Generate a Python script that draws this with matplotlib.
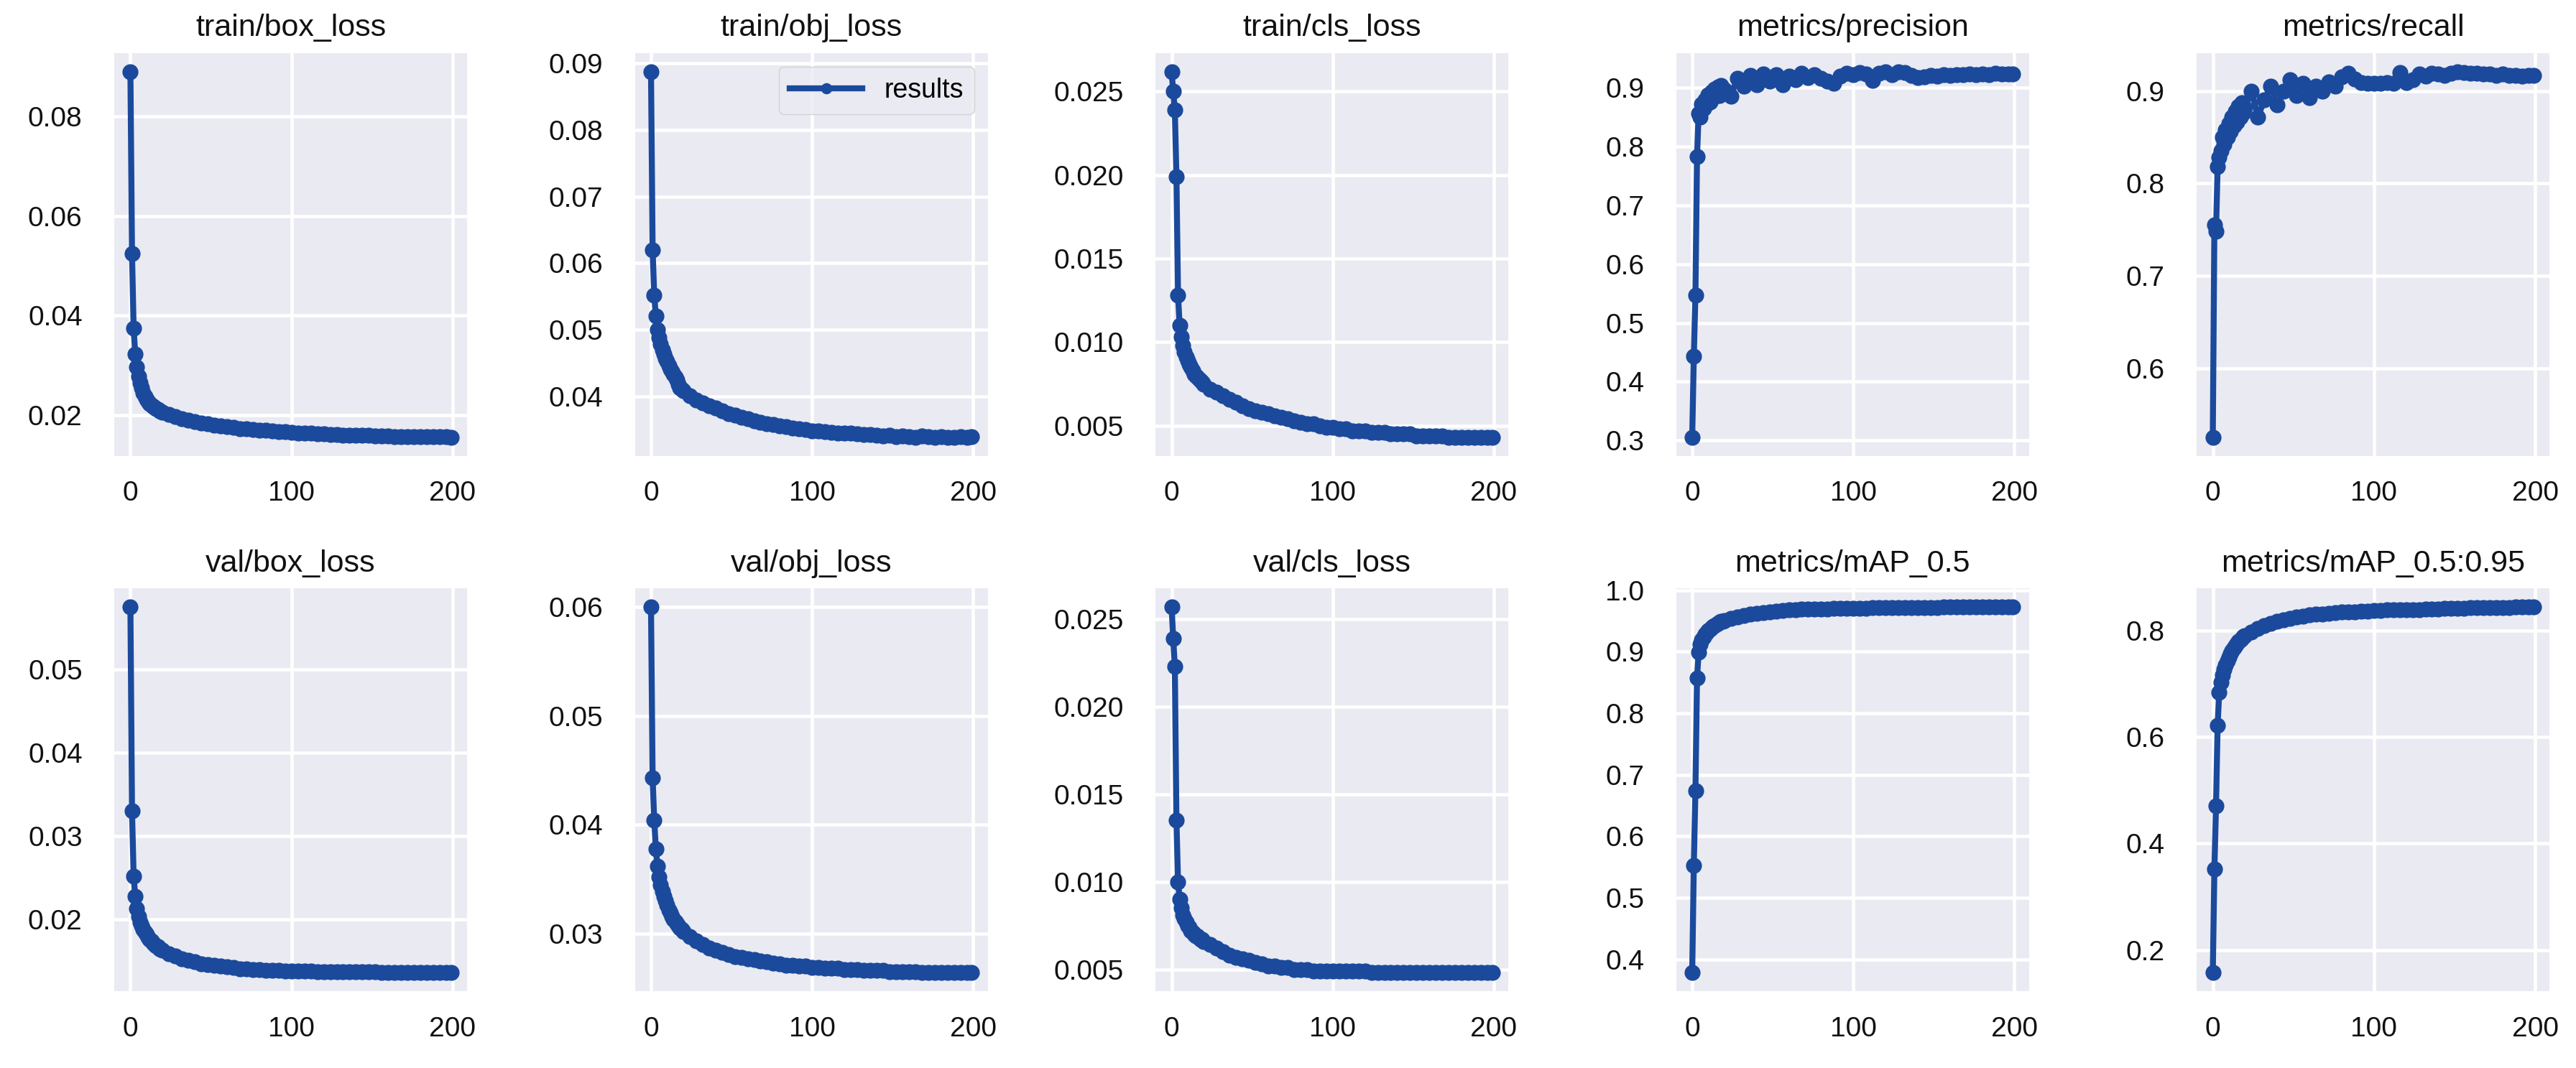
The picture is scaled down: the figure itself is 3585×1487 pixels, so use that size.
import matplotlib.pyplot as plt

# epochs (every epoch early, every 4th later)
epochs = [0, 1, 2, 3, 4, 5, 6, 7, 8, 9, 10, 11, 12, 13, 14, 15, 16, 17, 18, 19,
          20, 24, 28, 32, 36, 40, 44, 48, 52, 56, 60, 64, 68, 72, 76, 80, 84, 88,
          92, 96, 100, 104, 108, 112, 116, 120, 124, 128, 132, 136, 140, 144, 148,
          152, 156, 160, 164, 168, 172, 176, 180, 184, 188, 192, 196, 199]

titles = ["train/box_loss", "train/obj_loss", "train/cls_loss", "metrics/precision", "metrics/recall",
          "val/box_loss", "val/obj_loss", "val/cls_loss", "metrics/mAP_0.5", "metrics/mAP_0.5:0.95"]

train_box_loss = [0.0890, 0.0524, 0.0374, 0.0322, 0.0296, 0.0278, 0.0265, 0.0254, 0.0245, 0.0238,
                  0.0232, 0.0227, 0.0223, 0.0220, 0.0217, 0.0215, 0.0213, 0.0211, 0.0209, 0.0207,
                  0.0206, 0.0201, 0.0197, 0.0193, 0.0190, 0.0187, 0.0184, 0.0182, 0.0180, 0.0178,
                  0.0176, 0.0175, 0.0173, 0.0172, 0.0171, 0.0170, 0.0169, 0.0168, 0.0167, 0.0166,
                  0.0165, 0.0164, 0.0164, 0.0163, 0.0162, 0.0162, 0.0161, 0.0161, 0.0160, 0.0160,
                  0.0159, 0.0159, 0.0159, 0.0158, 0.0158, 0.0158, 0.0157, 0.0157, 0.0157, 0.0157,
                  0.0156, 0.0156, 0.0156, 0.0156, 0.0156, 0.0155]

train_obj_loss = [0.0888, 0.0620, 0.0552, 0.0520, 0.0500, 0.0488, 0.0478, 0.0470, 0.0463, 0.0457,
                  0.0452, 0.0446, 0.0441, 0.0437, 0.0433, 0.0429, 0.0424, 0.0418, 0.0413, 0.0410,
                  0.0408, 0.0401, 0.0394, 0.0390, 0.0386, 0.0382, 0.0378, 0.0374, 0.0371, 0.0368,
                  0.0366, 0.0363, 0.0361, 0.0359, 0.0357, 0.0355, 0.0354, 0.0352, 0.0351, 0.0350,
                  0.0348, 0.0348, 0.0347, 0.0346, 0.0345, 0.0344, 0.0344, 0.0343, 0.0342, 0.0342,
                  0.0341, 0.0340, 0.0341, 0.0339, 0.0340, 0.0339, 0.0338, 0.0340, 0.0339, 0.0338,
                  0.0339, 0.0338, 0.0338, 0.0339, 0.0338, 0.0339]

train_cls_loss = [0.0262, 0.0250, 0.0239, 0.0199, 0.0128, 0.0110, 0.0103, 0.0098, 0.0094, 0.0091,
                  0.0089, 0.0087, 0.0085, 0.0083, 0.0081, 0.0080, 0.0079, 0.0078, 0.0077, 0.0076,
                  0.0075, 0.0072, 0.0070, 0.0068, 0.0066, 0.0064, 0.0062, 0.0060, 0.0059, 0.0058,
                  0.0057, 0.0056, 0.0055, 0.0054, 0.0053, 0.0052, 0.0051, 0.0051, 0.0050, 0.0049,
                  0.0049, 0.0048, 0.0048, 0.0047, 0.0047, 0.0047, 0.0046, 0.0046, 0.0046, 0.0045,
                  0.0045, 0.0045, 0.0045, 0.0044, 0.0044, 0.0044, 0.0044, 0.0044, 0.0043, 0.0043,
                  0.0043, 0.0043, 0.0043, 0.0043, 0.0043, 0.0043]

precision = [0.305, 0.443, 0.547, 0.783, 0.857, 0.850, 0.872, 0.865, 0.880, 0.872,
             0.888, 0.876, 0.893, 0.884, 0.898, 0.889, 0.902, 0.887, 0.904, 0.892,
             0.897, 0.886, 0.917, 0.903, 0.921, 0.906, 0.924, 0.912, 0.922, 0.905,
             0.920, 0.914, 0.925, 0.918, 0.923, 0.916, 0.912, 0.908, 0.920, 0.925,
             0.923, 0.926, 0.924, 0.913, 0.925, 0.927, 0.922, 0.928, 0.926, 0.921,
             0.918, 0.919, 0.921, 0.920, 0.922, 0.921, 0.923, 0.922, 0.924, 0.923,
             0.924, 0.923, 0.925, 0.924, 0.924, 0.924]

recall = [0.525, 0.755, 0.748, 0.818, 0.828, 0.835, 0.850, 0.842, 0.858, 0.850,
          0.865, 0.856, 0.872, 0.862, 0.878, 0.866, 0.883, 0.872, 0.887, 0.876,
          0.882, 0.900, 0.872, 0.890, 0.905, 0.885, 0.900, 0.912, 0.895, 0.908,
          0.893, 0.905, 0.900, 0.910, 0.905, 0.915, 0.919, 0.913, 0.909, 0.908,
          0.908, 0.908, 0.909, 0.908, 0.920, 0.909, 0.912, 0.918, 0.916, 0.919,
          0.918, 0.917, 0.919, 0.921, 0.920, 0.919, 0.919, 0.918, 0.918, 0.917,
          0.918, 0.917, 0.917, 0.916, 0.917, 0.917]

val_box_loss = [0.0575, 0.0330, 0.0252, 0.0228, 0.0213, 0.0204, 0.0197, 0.0192, 0.0188, 0.0185,
                0.0182, 0.0179, 0.0176, 0.0174, 0.0172, 0.0170, 0.0168, 0.0167, 0.0165, 0.0164,
                0.0163, 0.0159, 0.0156, 0.0153, 0.0151, 0.0149, 0.0147, 0.0146, 0.0145, 0.0144,
                0.0143, 0.0142, 0.0141, 0.0141, 0.0140, 0.0140, 0.0139, 0.0139, 0.0139, 0.0138,
                0.0138, 0.0138, 0.0138, 0.0138, 0.0137, 0.0137, 0.0137, 0.0137, 0.0137, 0.0137,
                0.0137, 0.0137, 0.0137, 0.0137, 0.0136, 0.0136, 0.0136, 0.0136, 0.0136, 0.0136,
                0.0136, 0.0136, 0.0136, 0.0136, 0.0136, 0.0136]

val_obj_loss = [0.0600, 0.0443, 0.0404, 0.0378, 0.0362, 0.0352, 0.0345, 0.0339, 0.0334, 0.0330,
                0.0326, 0.0322, 0.0319, 0.0316, 0.0313, 0.0311, 0.0309, 0.0307, 0.0305, 0.0304,
                0.0302, 0.0297, 0.0293, 0.0290, 0.0287, 0.0285, 0.0283, 0.0281, 0.0279, 0.0278,
                0.0277, 0.0276, 0.0275, 0.0274, 0.0273, 0.0272, 0.0271, 0.0271, 0.0270, 0.0270,
                0.0269, 0.0269, 0.0268, 0.0268, 0.0268, 0.0267, 0.0267, 0.0267, 0.0266, 0.0266,
                0.0266, 0.0266, 0.0265, 0.0265, 0.0265, 0.0265, 0.0265, 0.0264, 0.0264, 0.0264,
                0.0264, 0.0264, 0.0264, 0.0264, 0.0264, 0.0264]

val_cls_loss = [0.0257, 0.0239, 0.0223, 0.0135, 0.0100, 0.0090, 0.0085, 0.0081, 0.0079, 0.0077,
                0.0075, 0.0074, 0.0072, 0.0071, 0.0070, 0.0069, 0.0069, 0.0068, 0.0067, 0.0067,
                0.0066, 0.0064, 0.0062, 0.0060, 0.0058, 0.0057, 0.0056, 0.0055, 0.0054, 0.0053,
                0.0052, 0.0052, 0.0051, 0.0051, 0.0050, 0.0050, 0.0050, 0.0049, 0.0049, 0.0049,
                0.0049, 0.0049, 0.0049, 0.0049, 0.0049, 0.0049, 0.0048, 0.0048, 0.0048, 0.0048,
                0.0048, 0.0048, 0.0048, 0.0048, 0.0048, 0.0048, 0.0048, 0.0048, 0.0048, 0.0048,
                0.0048, 0.0048, 0.0048, 0.0048, 0.0048, 0.0048]

map_50 = [0.378, 0.553, 0.674, 0.857, 0.899, 0.912, 0.919, 0.924, 0.928, 0.931,
          0.934, 0.937, 0.939, 0.941, 0.943, 0.945, 0.946, 0.948, 0.949, 0.950,
          0.951, 0.954, 0.957, 0.959, 0.961, 0.963, 0.964, 0.965, 0.966, 0.967,
          0.968, 0.968, 0.969, 0.969, 0.970, 0.970, 0.970, 0.971, 0.971, 0.971,
          0.971, 0.971, 0.971, 0.972, 0.972, 0.972, 0.972, 0.972, 0.972, 0.972,
          0.972, 0.972, 0.972, 0.972, 0.973, 0.973, 0.973, 0.973, 0.973, 0.973,
          0.973, 0.973, 0.973, 0.973, 0.973, 0.973]

map_50_95 = [0.157, 0.352, 0.470, 0.622, 0.684, 0.703, 0.716, 0.726, 0.735, 0.743,
             0.750, 0.756, 0.762, 0.767, 0.771, 0.775, 0.779, 0.782, 0.785, 0.788,
             0.790, 0.797, 0.804, 0.809, 0.813, 0.817, 0.820, 0.822, 0.825, 0.827,
             0.829, 0.830, 0.831, 0.832, 0.833, 0.834, 0.835, 0.835, 0.836, 0.836,
             0.837, 0.837, 0.838, 0.838, 0.838, 0.839, 0.839, 0.839, 0.840, 0.840,
             0.840, 0.841, 0.841, 0.841, 0.841, 0.842, 0.842, 0.842, 0.843, 0.843,
             0.843, 0.843, 0.844, 0.844, 0.844, 0.844]

series = [train_box_loss, train_obj_loss, train_cls_loss, precision, recall,
          val_box_loss, val_obj_loss, val_cls_loss, map_50, map_50_95]

xticks = [0, 100, 200]
yticks = [[0.02, 0.04, 0.06, 0.08],
          [0.04, 0.05, 0.06, 0.07, 0.08, 0.09],
          [0.005, 0.010, 0.015, 0.020, 0.025],
          [0.3, 0.4, 0.5, 0.6, 0.7, 0.8, 0.9],
          [0.6, 0.7, 0.8, 0.9],
          [0.02, 0.03, 0.04, 0.05],
          [0.03, 0.04, 0.05, 0.06],
          [0.005, 0.010, 0.015, 0.020, 0.025],
          [0.4, 0.5, 0.6, 0.7, 0.8, 0.9, 1.0],
          [0.2, 0.4, 0.6, 0.8]]

plt.rcParams['font.family'] = ['Liberation Sans', 'DejaVu Sans']

fig, axes = plt.subplots(2, 5, figsize=(35.85, 14.87), dpi=100)
fig.subplots_adjust(left=0.0444, right=0.9897, top=0.9502, bottom=0.072, wspace=0.476, hspace=0.33)

for ax, y, title, yt in zip(axes.ravel(), series, titles, yticks):
    ax.set_facecolor('#EAEAF2')
    ax.plot(epochs, y, marker='o', markersize=16, markeredgewidth=0, linewidth=6,
            color='#1b4a9c', label='results')
    ax.set_title(title, fontsize=31, pad=17, color='#111111')
    ax.set_xticks(xticks)
    ax.set_yticks(yt)
    ax.grid(True, color='white', linewidth=3.3)
    ax.set_axisbelow(True)
    for s in ax.spines.values():
        s.set_visible(False)
    ax.tick_params(axis='both', length=0, labelsize=28, colors='#111111')
    ax.tick_params(axis='y', pad=32)
    ax.tick_params(axis='x', pad=25)

axes[0, 1].legend(loc='upper right', fontsize=27, handlelength=2.7, markerscale=0.7,
                  framealpha=0.8, edgecolor='#cccccc', facecolor='#EAEAF2', borderaxespad=0.5)

fig.savefig('out.png', dpi=100)
